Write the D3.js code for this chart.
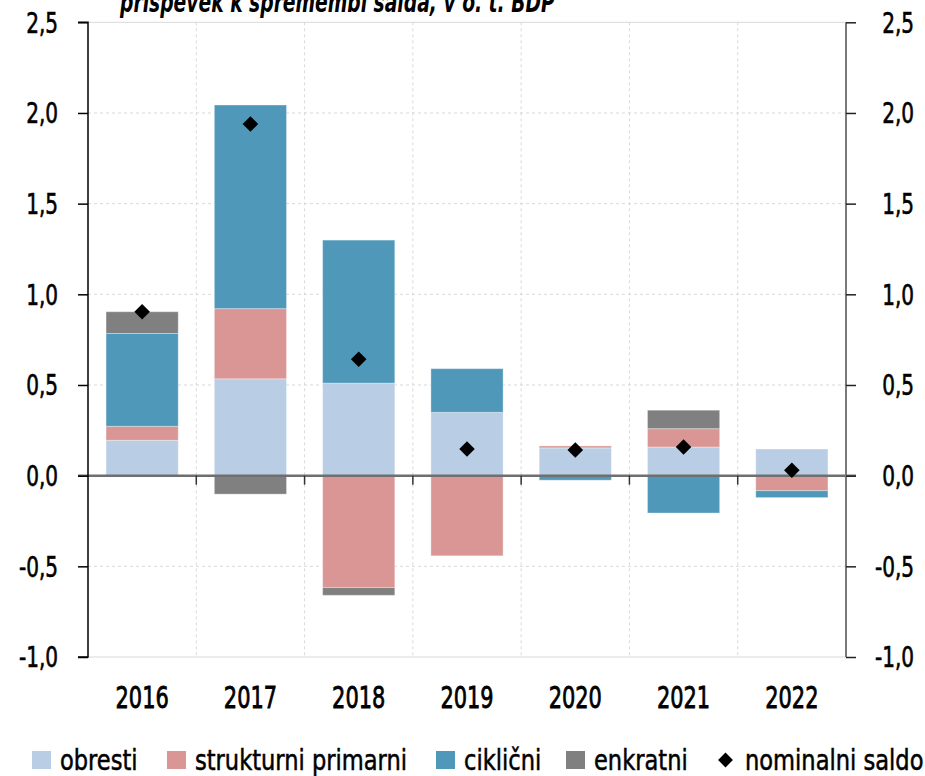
<!DOCTYPE html>
<html>
<head>
<meta charset="utf-8">
<script src="https://cdn.jsdelivr.net/npm/d3@7"></script>
<style>
  html, body { margin: 0; padding: 0; background: #fff; }
  svg { display: block; }
  text { font-family: "DejaVu Sans Condensed", "DejaVu Sans", sans-serif; fill: #000; }
</style>
</head>
<body>
<svg id="chart" width="925" height="776"></svg>
<script>
// ---- data ----
const categories = ["2016", "2017", "2018", "2019", "2020", "2021", "2022"];
const obresti    = [0.195, 0.534, 0.510, 0.349, 0.153, 0.158, 0.147];
const strukturni = [0.077, 0.387, -0.617, -0.442, 0.011, 0.101, -0.083];
const ciklicni   = [0.512, 1.123, 0.789, 0.241, -0.025, -0.206, -0.038];
const enkratni   = [0.120, -0.102, -0.043, 0, 0, 0.102, 0];
const nominalni  = [0.904, 1.939, 0.642, 0.147, 0.142, 0.158, 0.030];
const yTicks     = [-1.0, -0.5, 0.0, 0.5, 1.0, 1.5, 2.0, 2.5];
const seriesNames = ["obresti", "strukturni primarni", "ciklični", "enkratni"];
const seriesColors = ["#b9cde4", "#d99694", "#4f98b9", "#808080"];
const titleText = "prispevek k spremembi salda, v o. t. BDP";

// ---- layout ----
const svg = d3.select("#chart");
const plotL = 88, plotR = 846, plotT = 22.3, plotB = 657;
const x = d3.scaleBand().domain(categories).range([plotL, plotR]).paddingInner(1/3).paddingOuter(1/6);
const y = d3.scaleLinear().domain([-1.0, 2.5]).range([plotB, plotT]);
const fmt = v => d3.format(".1f")(v).replace(".", ",").replace("−", "-");

// horizontally compress text (condensed look) keeping its anchor point
function squeeze(sel, f) {
  sel.each(function () {
    const t = d3.select(this);
    const x0 = +t.attr("x") || 0;
    t.attr("x", x0 / f).attr("transform", `scale(${f},1)`);
  });
}

// title (partially cut off at top, as in the original)
const title = svg.append("text").attr("x", 120).attr("y", 12)
  .attr("font-size", 28).attr("font-style", "italic").attr("font-weight", "bold")
  .text(titleText);
squeeze(title, 435 / title.node().getComputedTextLength());

// horizontal grid
svg.append("g").selectAll("line").data(yTicks).join("line")
  .attr("x1", plotL).attr("x2", plotR)
  .attr("y1", d => y(d)).attr("y2", d => y(d))
  .attr("stroke", "#d9d9d9").attr("stroke-width", 1)
  .attr("stroke-dasharray", d => (d === 2.5 || d === -1.0) ? null : "3,3");

// vertical grid at band boundaries
const step = x.step();
const bounds = d3.range(1, categories.length).map(i => plotL + i * step);
svg.append("g").selectAll("line").data(bounds).join("line")
  .attr("x1", d => d).attr("x2", d => d)
  .attr("y1", plotT).attr("y2", plotB)
  .attr("stroke", "#d9d9d9").attr("stroke-width", 1).attr("stroke-dasharray", "3,3");

// stacked bars
const rows = categories.map((c, i) => ({
  cat: c,
  "obresti": obresti[i],
  "strukturni primarni": strukturni[i],
  "ciklični": ciklicni[i],
  "enkratni": enkratni[i]
}));
const stack = d3.stack().keys(seriesNames).offset(d3.stackOffsetDiverging);
const stacked = stack(rows);
svg.append("g").selectAll("g").data(stacked).join("g")
  .attr("fill", (d, i) => seriesColors[i])
  .selectAll("rect").data(d => d.filter(p => p[1] - p[0] !== 0)).join("rect")
  .attr("x", d => x(d.data.cat))
  .attr("width", x.bandwidth())
  .attr("y", d => y(Math.max(d[0], d[1])))
  .attr("height", d => Math.abs(y(d[0]) - y(d[1])))
  .attr("stroke", "#ffffff").attr("stroke-opacity", 0.35).attr("stroke-width", 1);

// zero line
svg.append("line").attr("x1", plotL - 10).attr("x2", plotR + 10)
  .attr("y1", y(0)).attr("y2", y(0))
  .attr("stroke", "#6f6f6f").attr("stroke-width", 2.5);
// category ticks below zero line
svg.append("g").selectAll("line").data(bounds).join("line")
  .attr("x1", d => d).attr("x2", d => d)
  .attr("y1", y(0)).attr("y2", y(0) + 9)
  .attr("stroke", "#333").attr("stroke-width", 1.5);

// left axis
const leftAxis = svg.append("g").attr("transform", `translate(${plotL},0)`)
  .call(d3.axisLeft(y).tickValues(yTicks).tickFormat(fmt).tickSize(10).tickPadding(20));
leftAxis.attr("font-family", null).attr("font-size", null);
leftAxis.select(".domain").attr("stroke", "#000").attr("stroke-width", 1.5)
  .attr("d", `M-10,${y(2.5)}H0V${y(-1)}H-10`);
leftAxis.selectAll(".tick line").attr("stroke", "#000").attr("stroke-width", 1.5);
leftAxis.selectAll(".tick text").attr("font-size", 27.5).attr("fill", "#000")
  .attr("stroke", "#000").attr("stroke-width", 0.6).attr("dy", "0.36em");
squeeze(leftAxis.selectAll(".tick text"), 0.81);

// right axis
const rightAxis = svg.append("g").attr("transform", `translate(${plotR},0)`)
  .call(d3.axisRight(y).tickValues(yTicks).tickFormat(fmt).tickSize(10).tickPadding(58));
rightAxis.attr("font-family", null).attr("font-size", null);
rightAxis.select(".domain").attr("stroke", "#7a7a7a").attr("stroke-width", 2)
  .attr("d", `M0,${y(2.5)}V${y(-1)}`);
rightAxis.selectAll(".tick line").attr("stroke", "#222").attr("stroke-width", 1.5);
rightAxis.selectAll(".tick text").attr("font-size", 27.5).attr("fill", "#000")
  .attr("stroke", "#000").attr("stroke-width", 0.6)
  .attr("text-anchor", "end").attr("dy", "0.36em");
squeeze(rightAxis.selectAll(".tick text"), 0.81);

// category labels
const catLabels = svg.append("g").selectAll("text").data(categories).join("text")
  .attr("x", d => x(d) + x.bandwidth() / 2)
  .attr("y", 708)
  .attr("text-anchor", "middle")
  .attr("font-size", 31)
  .attr("stroke", "#000").attr("stroke-width", 0.8)
  .text(d => d);
squeeze(catLabels, 0.75);

// nominal saldo diamonds
const diamond = d3.symbol().type(d3.symbolSquare).size(121);
svg.append("g").selectAll("path").data(nominalni).join("path")
  .attr("d", diamond)
  .attr("transform", (d, i) => `translate(${x(categories[i]) + x.bandwidth() / 2},${y(d)}) rotate(45)`)
  .attr("fill", "#000");

// legend
const legendItems = [
  { name: seriesNames[0], color: seriesColors[0], x: 32 },
  { name: seriesNames[1], color: seriesColors[1], x: 167 },
  { name: seriesNames[2], color: seriesColors[2], x: 436 },
  { name: seriesNames[3], color: seriesColors[3], x: 566 },
  { name: "nominalni saldo", color: "#000", x: 717, diamond: true }
];
const lg = svg.append("g").selectAll("g").data(legendItems).join("g")
  .attr("transform", d => `translate(${d.x},0)`);
lg.filter(d => !d.diamond).append("rect")
  .attr("x", 0).attr("y", 751).attr("width", 19).attr("height", 18)
  .attr("fill", d => d.color);
lg.filter(d => d.diamond).append("path")
  .attr("d", d3.symbol().type(d3.symbolSquare).size(110))
  .attr("transform", "translate(8.5,760) rotate(45)")
  .attr("fill", "#000");
const lgText = lg.append("text").attr("x", 28).attr("y", 770)
  .attr("font-size", 29)
  .attr("stroke", "#000").attr("stroke-width", 0.5)
  .text(d => d.name);
squeeze(lgText, 0.865);
</script>
</body>
</html>
